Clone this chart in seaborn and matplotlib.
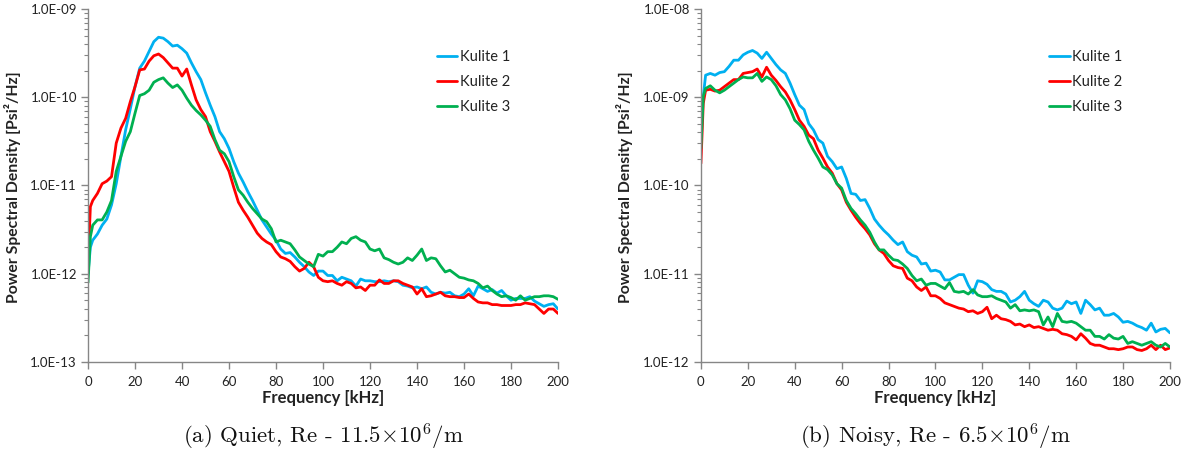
import numpy as np
import pandas as pd
import matplotlib
matplotlib.use("Agg")
import matplotlib.pyplot as plt
import matplotlib.ticker as mticker
import seaborn as sns

# ---------------- data (log10 of PSD) ----------------
freq = [0, 1] + list(range(2, 201, 2))  # kHz

quiet_k1_log = [-12.00, -11.70, -11.62, -11.55, -11.45, -11.38, -11.22, -10.98, -10.67, -10.37,
                -10.13, -9.88, -9.67, -9.59, -9.48, -9.37, -9.32, -9.33, -9.37, -9.42,
                -9.41, -9.45, -9.50, -9.61, -9.71, -9.80, -9.95, -10.09, -10.22, -10.39,
                -10.47, -10.58, -10.73, -10.86, -10.96, -11.07, -11.17, -11.28, -11.39, -11.47,
                -11.55, -11.62, -11.72, -11.77, -11.76, -11.81, -11.87, -11.92, -11.98, -12.02,
                -11.97, -11.97, -12.02, -12.02, -12.08, -12.04, -12.06, -12.08, -12.14, -12.06,
                -12.08, -12.08, -12.09, -12.09, -12.08, -12.09, -12.08, -12.09, -12.13, -12.14,
                -12.16, -12.15, -12.17, -12.15, -12.21, -12.23, -12.21, -12.22, -12.21, -12.25,
                -12.26, -12.23, -12.17, -12.25, -12.14, -12.17, -12.20, -12.18, -12.22, -12.19,
                -12.25, -12.30, -12.28, -12.28, -12.28, -12.26, -12.31, -12.34, -12.37, -12.35,
                -12.34, -12.40]
quiet_k2_log = [-11.90, -11.24, -11.17, -11.09, -10.98, -10.95, -10.90, -10.52, -10.35, -10.24,
                -10.05, -9.88, -9.69, -9.68, -9.59, -9.53, -9.51, -9.55, -9.61, -9.67,
                -9.67, -9.76, -9.68, -9.86, -10.03, -10.14, -10.22, -10.39, -10.50, -10.62,
                -10.73, -10.84, -11.02, -11.19, -11.28, -11.36, -11.45, -11.54, -11.60, -11.64,
                -11.67, -11.75, -11.81, -11.83, -11.86, -11.92, -11.97, -11.94, -11.87, -11.92,
                -12.04, -12.08, -12.09, -12.08, -12.11, -12.13, -12.09, -12.11, -12.16, -12.15,
                -12.19, -12.13, -12.13, -12.07, -12.11, -12.11, -12.08, -12.08, -12.11, -12.13,
                -12.15, -12.23, -12.17, -12.26, -12.25, -12.23, -12.21, -12.25, -12.26, -12.26,
                -12.27, -12.27, -12.23, -12.28, -12.32, -12.33, -12.33, -12.35, -12.35, -12.36,
                -12.36, -12.36, -12.35, -12.35, -12.33, -12.34, -12.35, -12.40, -12.45, -12.40,
                -12.40, -12.45]
quiet_k3_log = [-12.10, -11.58, -11.45, -11.39, -11.39, -11.30, -11.17, -10.84, -10.67, -10.50,
                -10.39, -10.18, -9.98, -9.96, -9.92, -9.83, -9.80, -9.78, -9.84, -9.89,
                -9.86, -9.92, -10.01, -10.09, -10.15, -10.20, -10.26, -10.33, -10.48, -10.60,
                -10.64, -10.73, -10.90, -11.05, -11.11, -11.19, -11.26, -11.32, -11.38, -11.41,
                -11.49, -11.64, -11.62, -11.64, -11.66, -11.73, -11.81, -11.85, -11.89, -11.92,
                -11.78, -11.80, -11.75, -11.75, -11.70, -11.64, -11.66, -11.60, -11.58, -11.62,
                -11.64, -11.72, -11.74, -11.72, -11.82, -11.84, -11.87, -11.89, -11.87, -11.82,
                -11.85, -11.79, -11.72, -11.85, -11.82, -11.83, -11.91, -11.98, -11.96, -12.00,
                -12.04, -12.05, -12.07, -12.08, -12.11, -12.16, -12.14, -12.19, -12.23, -12.26,
                -12.25, -12.27, -12.30, -12.25, -12.30, -12.28, -12.26, -12.26, -12.25, -12.25,
                -12.26, -12.29]

noisy_k1_log = [-9.31, -8.99, -8.75, -8.73, -8.75, -8.72, -8.71, -8.65, -8.58, -8.58,
                -8.52, -8.49, -8.47, -8.50, -8.56, -8.49, -8.56, -8.63, -8.69, -8.73,
                -8.84, -8.97, -9.09, -9.14, -9.30, -9.37, -9.48, -9.52, -9.67, -9.73,
                -9.81, -9.79, -9.92, -10.09, -10.10, -10.17, -10.16, -10.26, -10.38, -10.45,
                -10.51, -10.56, -10.62, -10.67, -10.64, -10.75, -10.79, -10.81, -10.89, -10.88,
                -10.97, -10.96, -10.98, -11.07, -11.07, -11.04, -11.01, -11.01, -11.13, -11.22,
                -11.08, -11.09, -11.12, -11.18, -11.20, -11.20, -11.23, -11.32, -11.30, -11.26,
                -11.20, -11.30, -11.34, -11.37, -11.30, -11.32, -11.39, -11.41, -11.39, -11.31,
                -11.34, -11.32, -11.45, -11.30, -11.35, -11.41, -11.39, -11.47, -11.47, -11.45,
                -11.49, -11.55, -11.54, -11.56, -11.59, -11.61, -11.64, -11.56, -11.66, -11.63,
                -11.62, -11.67]
noisy_k2_log = [-9.75, -9.07, -8.92, -8.91, -8.93, -8.92, -8.88, -8.84, -8.80, -8.80,
                -8.73, -8.72, -8.71, -8.68, -8.77, -8.66, -8.75, -8.81, -8.88, -8.94,
                -9.03, -9.14, -9.26, -9.33, -9.43, -9.47, -9.60, -9.69, -9.79, -9.86,
                -9.98, -10.05, -10.19, -10.28, -10.36, -10.43, -10.49, -10.56, -10.66, -10.73,
                -10.77, -10.85, -10.91, -10.93, -10.94, -11.05, -11.08, -11.15, -11.19, -11.15,
                -11.25, -11.25, -11.28, -11.33, -11.35, -11.37, -11.39, -11.40, -11.43, -11.42,
                -11.45, -11.43, -11.38, -11.51, -11.47, -11.51, -11.52, -11.54, -11.58, -11.57,
                -11.60, -11.58, -11.61, -11.60, -11.62, -11.64, -11.63, -11.64, -11.68, -11.69,
                -11.71, -11.75, -11.68, -11.73, -11.79, -11.81, -11.81, -11.83, -11.85, -11.85,
                -11.86, -11.85, -11.83, -11.83, -11.86, -11.87, -11.85, -11.81, -11.86, -11.81,
                -11.86, -11.84]
noisy_k3_log = [-9.58, -8.99, -8.90, -8.87, -8.92, -8.95, -8.92, -8.88, -8.84, -8.80,
                -8.77, -8.78, -8.78, -8.73, -8.82, -8.77, -8.80, -8.87, -8.97, -9.03,
                -9.13, -9.26, -9.31, -9.37, -9.50, -9.60, -9.69, -9.79, -9.82, -9.88,
                -9.98, -10.03, -10.17, -10.26, -10.32, -10.39, -10.45, -10.53, -10.64, -10.73,
                -10.73, -10.79, -10.84, -10.85, -10.89, -10.94, -11.02, -11.08, -11.06, -11.13,
                -11.11, -11.11, -11.14, -11.17, -11.10, -11.20, -11.21, -11.20, -11.23, -11.18,
                -11.24, -11.26, -11.26, -11.25, -11.28, -11.30, -11.32, -11.39, -11.35, -11.42,
                -11.41, -11.42, -11.41, -11.43, -11.58, -11.49, -11.60, -11.45, -11.54, -11.55,
                -11.54, -11.56, -11.60, -11.64, -11.64, -11.71, -11.71, -11.74, -11.69, -11.73,
                -11.74, -11.71, -11.79, -11.77, -11.79, -11.81, -11.79, -11.77, -11.81, -11.83,
                -11.79, -11.83]

series_names = ["Kulite 1", "Kulite 2", "Kulite 3"]
colors = ["#00B0F0", "#FF0000", "#00B050"]
captions = [r"(a) Quiet, Re - 11.5$\times$10$^{6}$/m", r"(b) Noisy, Re - 6.5$\times$10$^{6}$/m"]
ylims = [(1e-13, 1e-9), (1e-12, 1e-8)]


def make_df(k1, k2, k3):
    rows = []
    for name, vals in zip(series_names, [k1, k2, k3]):
        for f, v in zip(freq, vals):
            rows.append({"freq": f, "psd": 10.0 ** v, "sensor": name})
    return pd.DataFrame(rows)


dfs = [make_df(quiet_k1_log, quiet_k2_log, quiet_k3_log),
       make_df(noisy_k1_log, noisy_k2_log, noisy_k3_log)]

# ---------------- figure ----------------
sns.set_theme(style="white")
plt.rcParams["font.family"] = ["Lato", "DejaVu Sans"]
plt.rcParams["mathtext.fontset"] = "cm"

fig = plt.figure(figsize=(11.88, 4.62), dpi=100)
axes_pos = [[0.0741, 0.2165, 0.3956, 0.764], [0.590, 0.2165, 0.3948, 0.764]]
ylabel_x = [-0.16, -0.162]
grey = "#868686"
text_col = "#222222"

for i, (df, pos) in enumerate(zip(dfs, axes_pos)):
    ax = fig.add_axes(pos)
    sns.lineplot(data=df, x="freq", y="psd", hue="sensor", palette=colors,
                 linewidth=2.0, ax=ax, legend=True)
    ax.set_yscale("log")
    ax.set_xlim(0, 200)
    ax.set_ylim(*ylims[i])
    ax.set_xticks(range(0, 201, 20))
    lo, hi = ylims[i]
    majors = [lo * 10 ** k for k in range(int(round(np.log10(hi / lo))) + 1)]
    ax.yaxis.set_major_locator(mticker.FixedLocator(majors))
    ax.yaxis.set_major_formatter(mticker.FuncFormatter(lambda v, p: f"{v:.1E}"))
    ax.yaxis.set_minor_locator(mticker.LogLocator(base=10, subs=np.arange(2, 10)))
    ax.yaxis.set_minor_formatter(mticker.NullFormatter())
    for s in ["top", "right"]:
        ax.spines[s].set_visible(False)
    for s in ["left", "bottom"]:
        ax.spines[s].set_color(grey)
        ax.spines[s].set_linewidth(1.0)
    ax.tick_params(axis="both", which="major", direction="out", length=5, width=1,
                   color=grey, labelsize=9.5, labelcolor=text_col, pad=3,
                   left=True, bottom=True)
    ax.tick_params(axis="x", which="major", pad=5)
    ax.tick_params(axis="y", which="minor", direction="out", length=3, width=0.8,
                   color=grey, left=True)
    ax.set_xlabel("Frequency [kHz]", fontsize=12, fontweight="bold", color=text_col)
    ax.xaxis.set_label_coords(0.5, -0.102)
    ax.xaxis.label.set_va("center")
    ax.set_ylabel("Power Spectral Density [Psi²/Hz]", fontsize=11.3,
                  fontweight="bold", color=text_col)
    ax.yaxis.set_label_coords(ylabel_x[i], 0.494)
    ax.yaxis.label.set_va("center")
    ax.grid(False)
    leg = ax.legend(loc="upper left", bbox_to_anchor=(0.73, 0.90), frameon=False,
                    handlelength=1.4, handletextpad=0.2, labelspacing=0.75,
                    fontsize=10.5, borderaxespad=0)
    for t in leg.get_texts():
        t.set_color(text_col)
    cx = pos[0] + pos[2] / 2
    fig.text(cx, 1 - 437 / 462, captions[i], ha="center", va="center",
             fontsize=16.5, family="cmr10", color="#111111")

fig.savefig("out.png", dpi=100)
